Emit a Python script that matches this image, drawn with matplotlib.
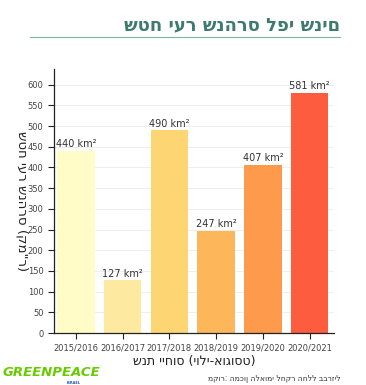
import matplotlib
matplotlib.use("Agg")
import matplotlib.pyplot as plt

plt.rcParams['font.family'] = ['DejaVu Sans']

# data
years = ['2015/2016', '2016/2017', '2017/2018', '2018/2019', '2019/2020', '2020/2021']
area_km2 = [440, 127, 490, 247, 407, 581]
bar_colors = ['#fffcc8', '#fde9a0', '#fdd673', '#fdb75a', '#fd9a4c', '#fd5c3f']
yticks = list(range(0, 601, 50))

title = 'שטח יער שנהרס לפי שנים'
ylabel = 'שטח יער שנהרס (קמ"ר)'
xlabel = 'שנת ייחוס (יולי-אוגוסט)'
source = 'מקור: המכון הלאומי לחקר החלל בברזיל'

fig = plt.figure(figsize=(3.66, 3.85), dpi=100)
ax = fig.add_axes([0.1475, 0.135, 0.765, 0.686])

x = range(len(years))
ax.bar(x, area_km2, width=0.8, color=bar_colors, zorder=2)
for i, v in enumerate(area_km2):
    ax.text(i, v + 4, f'{v} km²', ha='center', va='bottom', fontsize=7, color='#333333')

ax.set_xlim(-0.47, 5.52)
ax.set_ylim(0, 638)
ax.set_yticks(yticks)
ax.set_xticks(list(x))
ax.set_xticklabels(years)
ax.tick_params(axis='both', labelsize=6, colors='#222222', labelcolor='#444444', length=4, width=0.8)
ax.grid(axis='y', color='#eeeeee', linewidth=0.7, zorder=0)
for side in ['top', 'right']:
    ax.spines[side].set_visible(False)
for side in ['left', 'bottom']:
    ax.spines[side].set_linewidth(0.9)
    ax.spines[side].set_color('#222222')

ax.set_xlabel(xlabel, fontsize=9, color='#222222', labelpad=2)
ax.set_ylabel(ylabel, fontsize=9.5, color='#222222', rotation=270, va='center', ha='center')
ax.yaxis.set_label_coords(-0.115, 0.5)

# title with underline
fig.text(0.93, 0.935, title, ha='right', va='center', fontsize=13,
         fontweight='bold', color='#3e7a70')
fig.add_artist(plt.Line2D([0.082, 0.93], [0.905, 0.905], color='#7fb3aa', linewidth=0.8))

# source and logo
fig.text(0.93, 0.018, source, ha='right', va='center', fontsize=5.5, color='#333333')
fig.text(0.008, 0.032, 'GREENPEACE', ha='left', va='center', fontsize=9.5,
         fontweight='bold', fontstyle='italic', color='#66cc00')
fig.text(0.2, 0.0, 'ISRAEL', ha='center', va='bottom', fontsize=2.5,
         fontweight='bold', color='#2255aa')

fig.savefig('out.png', dpi=100)
